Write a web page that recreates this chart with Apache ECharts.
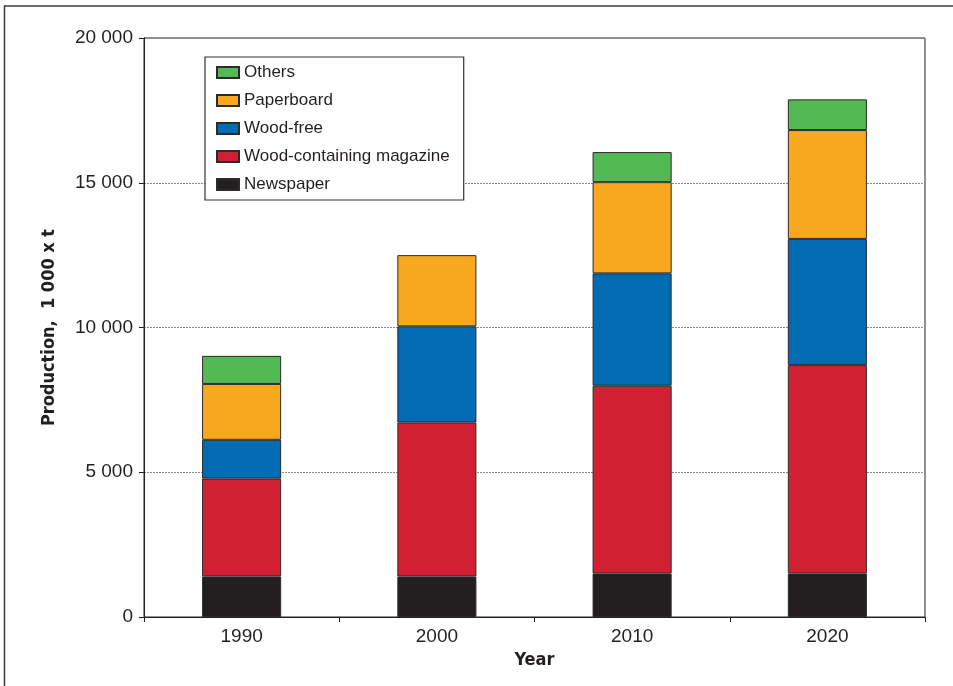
<!DOCTYPE html>
<html>
<head>
<meta charset="utf-8">
<script src="https://cdn.jsdelivr.net/npm/echarts@6/dist/echarts.min.js"></script>
<style>
  html, body { margin: 0; padding: 0; background: #fff; }
  #chart { width: 953px; height: 686px; }
</style>
</head>
<body>
<div id="chart"></div>
<script>
// Paper production by grade, thousand tonnes
const years = ['1990', '2000', '2010', '2020'];
const newspaper = [1400, 1400, 1500, 1500];
const woodContaining = [3380, 5320, 6490, 7200];
const woodFree = [1340, 3320, 3880, 4360];
const paperboard = [1930, 2460, 3150, 3760];
const others = [970, null, 1040, 1060];
const legendOrder = ['Others', 'Paperboard', 'Wood-free', 'Wood-containing magazine', 'Newspaper'];
const yTicks = { min: 0, max: 20000, step: 5000 };

const baseFont = '"Liberation Sans", Arial, Helvetica, sans-serif';
const narrowFont = '"DejaVu Sans Condensed", "Liberation Sans", Arial, sans-serif';

function withSpaces(v) {
  return String(v).replace(/\B(?=(\d{3})+(?!\d))/g, ' ');
}

function barSeries(name, data, color) {
  return {
    name: name,
    type: 'bar',
    stack: 'total',
    data: data,
    barWidth: '40.5%',
    itemStyle: { color: color, borderColor: '#2b2b2b', borderWidth: 1 },
    emphasis: { disabled: true }
  };
}

const chart = echarts.init(document.getElementById('chart'), null, { renderer: 'canvas' });
chart.setOption({
  animation: false,
  backgroundColor: '#fff',
  graphic: [{
    type: 'rect',
    shape: { x: 4.5, y: 6, width: 2000, height: 2000 },
    style: { fill: 'none', stroke: '#3a3a3a', lineWidth: 1.5 },
    silent: true
  }],
  grid: {
    left: 144, right: 28, top: 38, bottom: 69,
    show: true, borderColor: '#222', borderWidth: 1, backgroundColor: 'transparent'
  },
  legend: {
    data: legendOrder,
    orient: 'vertical',
    left: 205, top: 57,
    padding: [6, 14, 6, 11],
    itemGap: 9,
    itemWidth: 22, itemHeight: 11,
    icon: 'rect',
    borderColor: '#333', borderWidth: 1.2,
    backgroundColor: '#fff',
    textStyle: { fontFamily: baseFont, fontSize: 17, color: '#231f20', lineHeight: 19, padding: [0, 0, 0, 0] }
  },
  xAxis: {
    type: 'category',
    data: years,
    name: 'Year',
    nameLocation: 'middle',
    nameGap: 33,
    nameTextStyle: { fontFamily: narrowFont, fontSize: 18, fontWeight: 'bold', color: '#231f20' },
    axisLine: { lineStyle: { color: '#222', width: 1 } },
    axisTick: { show: true, length: 5, lineStyle: { color: '#222' } },
    axisLabel: { fontFamily: baseFont, fontSize: 19, color: '#231f20', margin: 10 }
  },
  yAxis: {
    type: 'value',
    min: yTicks.min, max: yTicks.max, interval: yTicks.step,
    name: 'Production,  1 000 x t',
    nameLocation: 'middle',
    nameGap: 86,
    nameRotate: 90,
    nameTextStyle: { fontFamily: narrowFont, fontSize: 18, fontWeight: 'bold', color: '#231f20' },
    axisLine: { show: true, lineStyle: { color: '#222', width: 1 } },
    axisTick: { show: true, length: 5, lineStyle: { color: '#222' } },
    axisLabel: { fontFamily: baseFont, fontSize: 19, color: '#231f20', margin: 11, formatter: withSpaces },
    splitLine: { show: true, lineStyle: { color: '#8a8a8a', type: [2, 1], width: 1 } }
  },
  series: [
    barSeries('Newspaper', newspaper, '#231f20'),
    barSeries('Wood-containing magazine', woodContaining, '#d12031'),
    barSeries('Wood-free', woodFree, '#016bb4'),
    barSeries('Paperboard', paperboard, '#f8a81e'),
    barSeries('Others', others, '#53b952')
  ]
});
</script>
</body>
</html>
